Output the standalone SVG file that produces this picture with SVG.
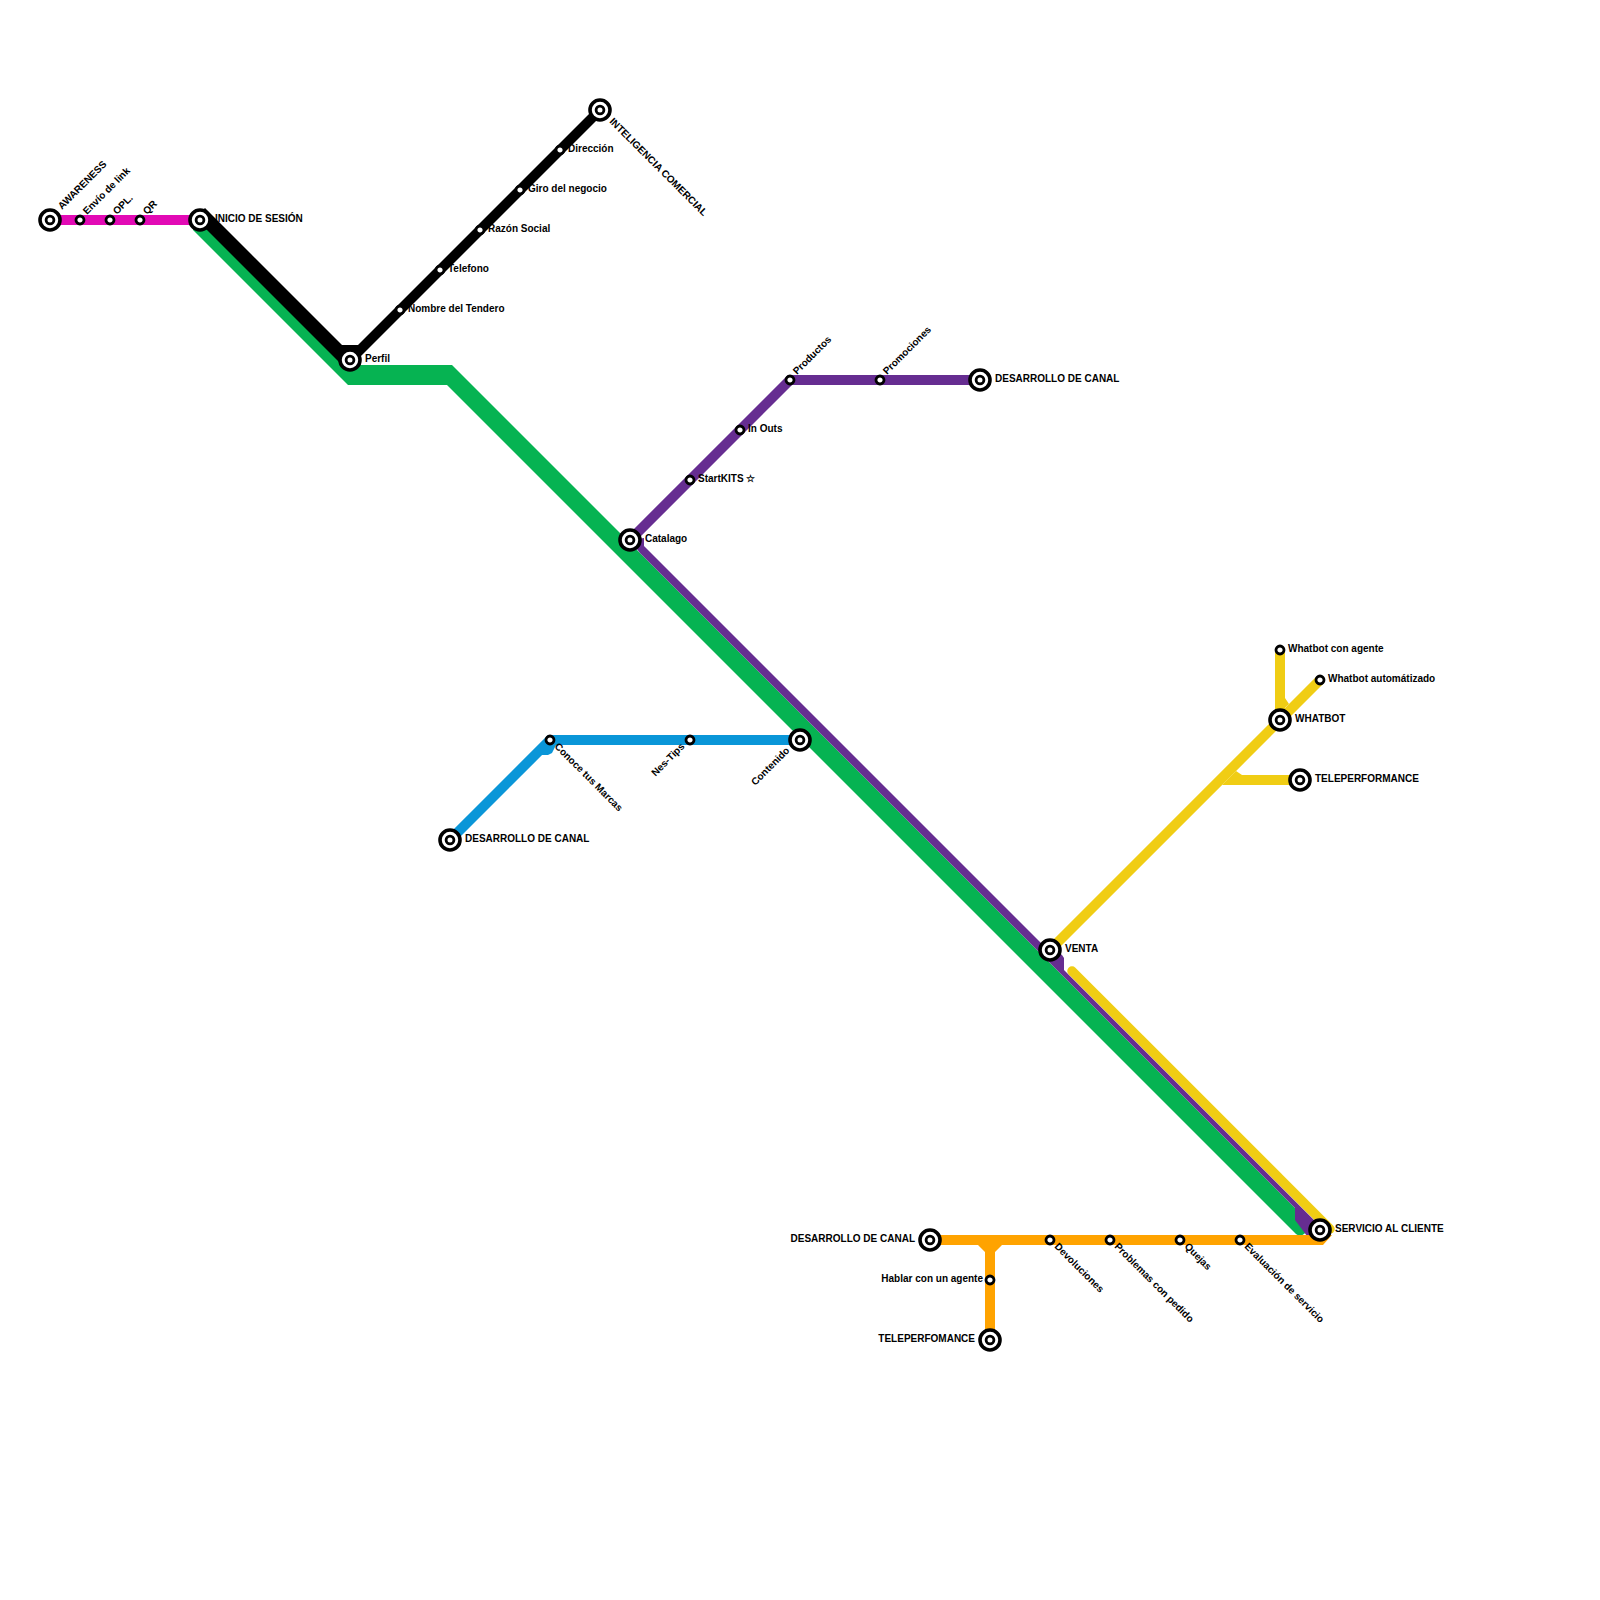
<svg xmlns="http://www.w3.org/2000/svg" width="1600" height="1600" viewBox="0 0 1600 1600">
<style>
text{font-family:"Liberation Sans",Arial,sans-serif;font-size:10px;font-weight:700;fill:#000}
.e{text-anchor:end}
.l{fill:none;stroke-width:10;stroke-linejoin:miter;stroke-linecap:butt}
.big{fill:#fff;stroke:#000;stroke-width:3.6}
.inner{fill:#fff;stroke:#000;stroke-width:2.8}
.s{fill:#fff;stroke:#000;stroke-width:2.8}
.g{fill:#06b352}.p{fill:#662d91}.y{fill:#f0cd14}.o{fill:#ffa300}.b{fill:#0a96d8}.k{fill:#000}
</style>
<defs>
<g id="term"><circle r="10" class="big"/><circle r="3.9" class="inner"/></g>
<circle id="stop" r="4" class="s"/>
</defs>
<g id="connectors">
<path id="line-green" class="g" d="M193 230L348 385H447L1296 1234Q1300 1237 1304 1234L1310 1228L1311 1224L452 365H350L205 214L196 216Z"/>
<path id="line-purple-arm" class="l" d="M980 380H790L630 540" style="stroke:#662d91"/>
<path id="line-purple" class="p" d="M630 540L644 538V546L1048 950L1050 945L1062 955L1064 958V970L1322 1228L1310 1240L1295 1220V1208L640 553Z"/>
<path id="line-yellow-a" class="l" d="M1050 950L1320 680M1280 650V715" style="stroke:#f0cd14"/>
<path id="line-yellow-b" class="y" d="M1285 698L1289 704L1280 712L1280 698ZM1236 771L1242 775H1300V785H1222Z"/>
<path id="line-yellow-c" class="l" d="M1072 971L1330 1229" style="stroke:#f0cd14;stroke-width:9.5;stroke-linecap:round"/>
<path id="line-black" class="k" d="M205 208L342 345H358L596 107L604 113L360 357L350 365L340 363L195 218Z"/>
<path id="line-magenta" class="l" d="M50 220H200" style="stroke:#e20ab5"/>
<path id="line-blue" class="l" d="M450 840L550 740H800" style="stroke:#0a96d8"/>
<path id="line-blue-b" class="b" d="M540 745H556L552 753L548 755H540Z"/>
<path id="line-orange" class="o" d="M930 1235H1332L1323 1245H1002L995 1252V1340H985V1252L978 1245H930Z"/>
</g>
<g id="n-awareness" transform="translate(50 220)"><use href="#term"/><text transform="translate(12 -10) rotate(-45)">AWARENESS</text></g>
<g id="n-envio" transform="translate(80 220)"><use href="#stop"/><text transform="translate(7 -5) rotate(-45)">Envío de link</text></g>
<g id="n-opl" transform="translate(110 220)"><use href="#stop"/><text transform="translate(7 -5) rotate(-45)">OPL.</text></g>
<g id="n-qr" transform="translate(140 220)"><use href="#stop"/><text transform="translate(7 -5) rotate(-45)">QR</text></g>
<g id="n-inicio" transform="translate(200 220)"><use href="#term"/><text x="15" y="2">INICIO DE SESIÓN</text></g>
<g id="n-perfil" transform="translate(350 360)"><use href="#term"/><text x="15" y="2">Perfil</text></g>
<g id="n-nombre" transform="translate(400 310)"><use href="#stop"/><text x="8" y="2">Nombre del Tendero</text></g>
<g id="n-telefono" transform="translate(440 270)"><use href="#stop"/><text x="8" y="2">Telefono</text></g>
<g id="n-razon" transform="translate(480 230)"><use href="#stop"/><text x="8" y="2">Razón Social</text></g>
<g id="n-giro" transform="translate(520 190)"><use href="#stop"/><text x="8" y="2">Giro del negocio</text></g>
<g id="n-direccion" transform="translate(560 150)"><use href="#stop"/><text x="8" y="2">Dirección</text></g>
<g id="n-inteligencia" transform="translate(600 110)"><use href="#term"/><text transform="translate(11 10) rotate(45)" y="3">INTELIGENCIA COMERCIAL</text></g>
<g id="n-catalago" transform="translate(630 540)"><use href="#term"/><text x="15" y="2">Catalago</text></g>
<g id="n-startkits" transform="translate(690 480)"><use href="#stop"/><text x="8" y="2">StartKITS ☆</text></g>
<g id="n-inouts" transform="translate(740 430)"><use href="#stop"/><text x="8" y="2">In Outs</text></g>
<g id="n-productos" transform="translate(790 380)"><use href="#stop"/><text transform="translate(7 -5) rotate(-45)">Productos</text></g>
<g id="n-promociones" transform="translate(880 380)"><use href="#stop"/><text transform="translate(7 -5) rotate(-45)">Promociones</text></g>
<g id="n-desarrollo1" transform="translate(980 380)"><use href="#term"/><text x="15" y="2">DESARROLLO DE CANAL</text></g>
<g id="n-desarrollo2" transform="translate(450 840)"><use href="#term"/><text x="15" y="2">DESARROLLO DE CANAL</text></g>
<g id="n-conoce" transform="translate(550 740)"><use href="#stop"/><text transform="translate(6 5) rotate(45)" y="3">Conoce tus Marcas</text></g>
<g id="n-nestips" transform="translate(690 740)"><use href="#stop"/><text class="e" transform="translate(-7 5) rotate(-45)" y="3">Nes-Tips</text></g>
<g id="n-contenido" transform="translate(800 740)"><use href="#term"/><text class="e" transform="translate(-12 9) rotate(-45)" y="3">Contenido</text></g>
<g id="n-venta" transform="translate(1050 950)"><use href="#term"/><text x="15" y="2">VENTA</text></g>
<g id="n-whatbot" transform="translate(1280 720)"><use href="#term"/><text x="15" y="2">WHATBOT</text></g>
<g id="n-agente" transform="translate(1280 650)"><use href="#stop"/><text x="8" y="2">Whatbot con agente</text></g>
<g id="n-auto" transform="translate(1320 680)"><use href="#stop"/><text x="8" y="2">Whatbot automátizado</text></g>
<g id="n-tele" transform="translate(1300 780)"><use href="#term"/><text x="15" y="2">TELEPERFORMANCE</text></g>
<g id="n-servicio" transform="translate(1320 1230)"><use href="#term"/><text x="15" y="2">SERVICIO AL CLIENTE</text></g>
<g id="n-desarrollo3" transform="translate(930 1240)"><use href="#term"/><text class="e" x="-15" y="2">DESARROLLO DE CANAL</text></g>
<g id="n-devol" transform="translate(1050 1240)"><use href="#stop"/><text transform="translate(6 5) rotate(45)" y="3">Devoluciones</text></g>
<g id="n-problemas" transform="translate(1110 1240)"><use href="#stop"/><text transform="translate(6 5) rotate(45)" y="3">Problemas con pedido</text></g>
<g id="n-quejas" transform="translate(1180 1240)"><use href="#stop"/><text transform="translate(6 5) rotate(45)" y="3">Quejas</text></g>
<g id="n-eval" transform="translate(1240 1240)"><use href="#stop"/><text transform="translate(6 5) rotate(45)" y="3">Evaluación de servicio</text></g>
<g id="n-hablar" transform="translate(990 1280)"><use href="#stop"/><text class="e" x="-7" y="2">Hablar con un agente</text></g>
<g id="n-telefomance" transform="translate(990 1340)"><use href="#term"/><text class="e" x="-15" y="2">TELEPERFOMANCE</text></g>
</svg>
